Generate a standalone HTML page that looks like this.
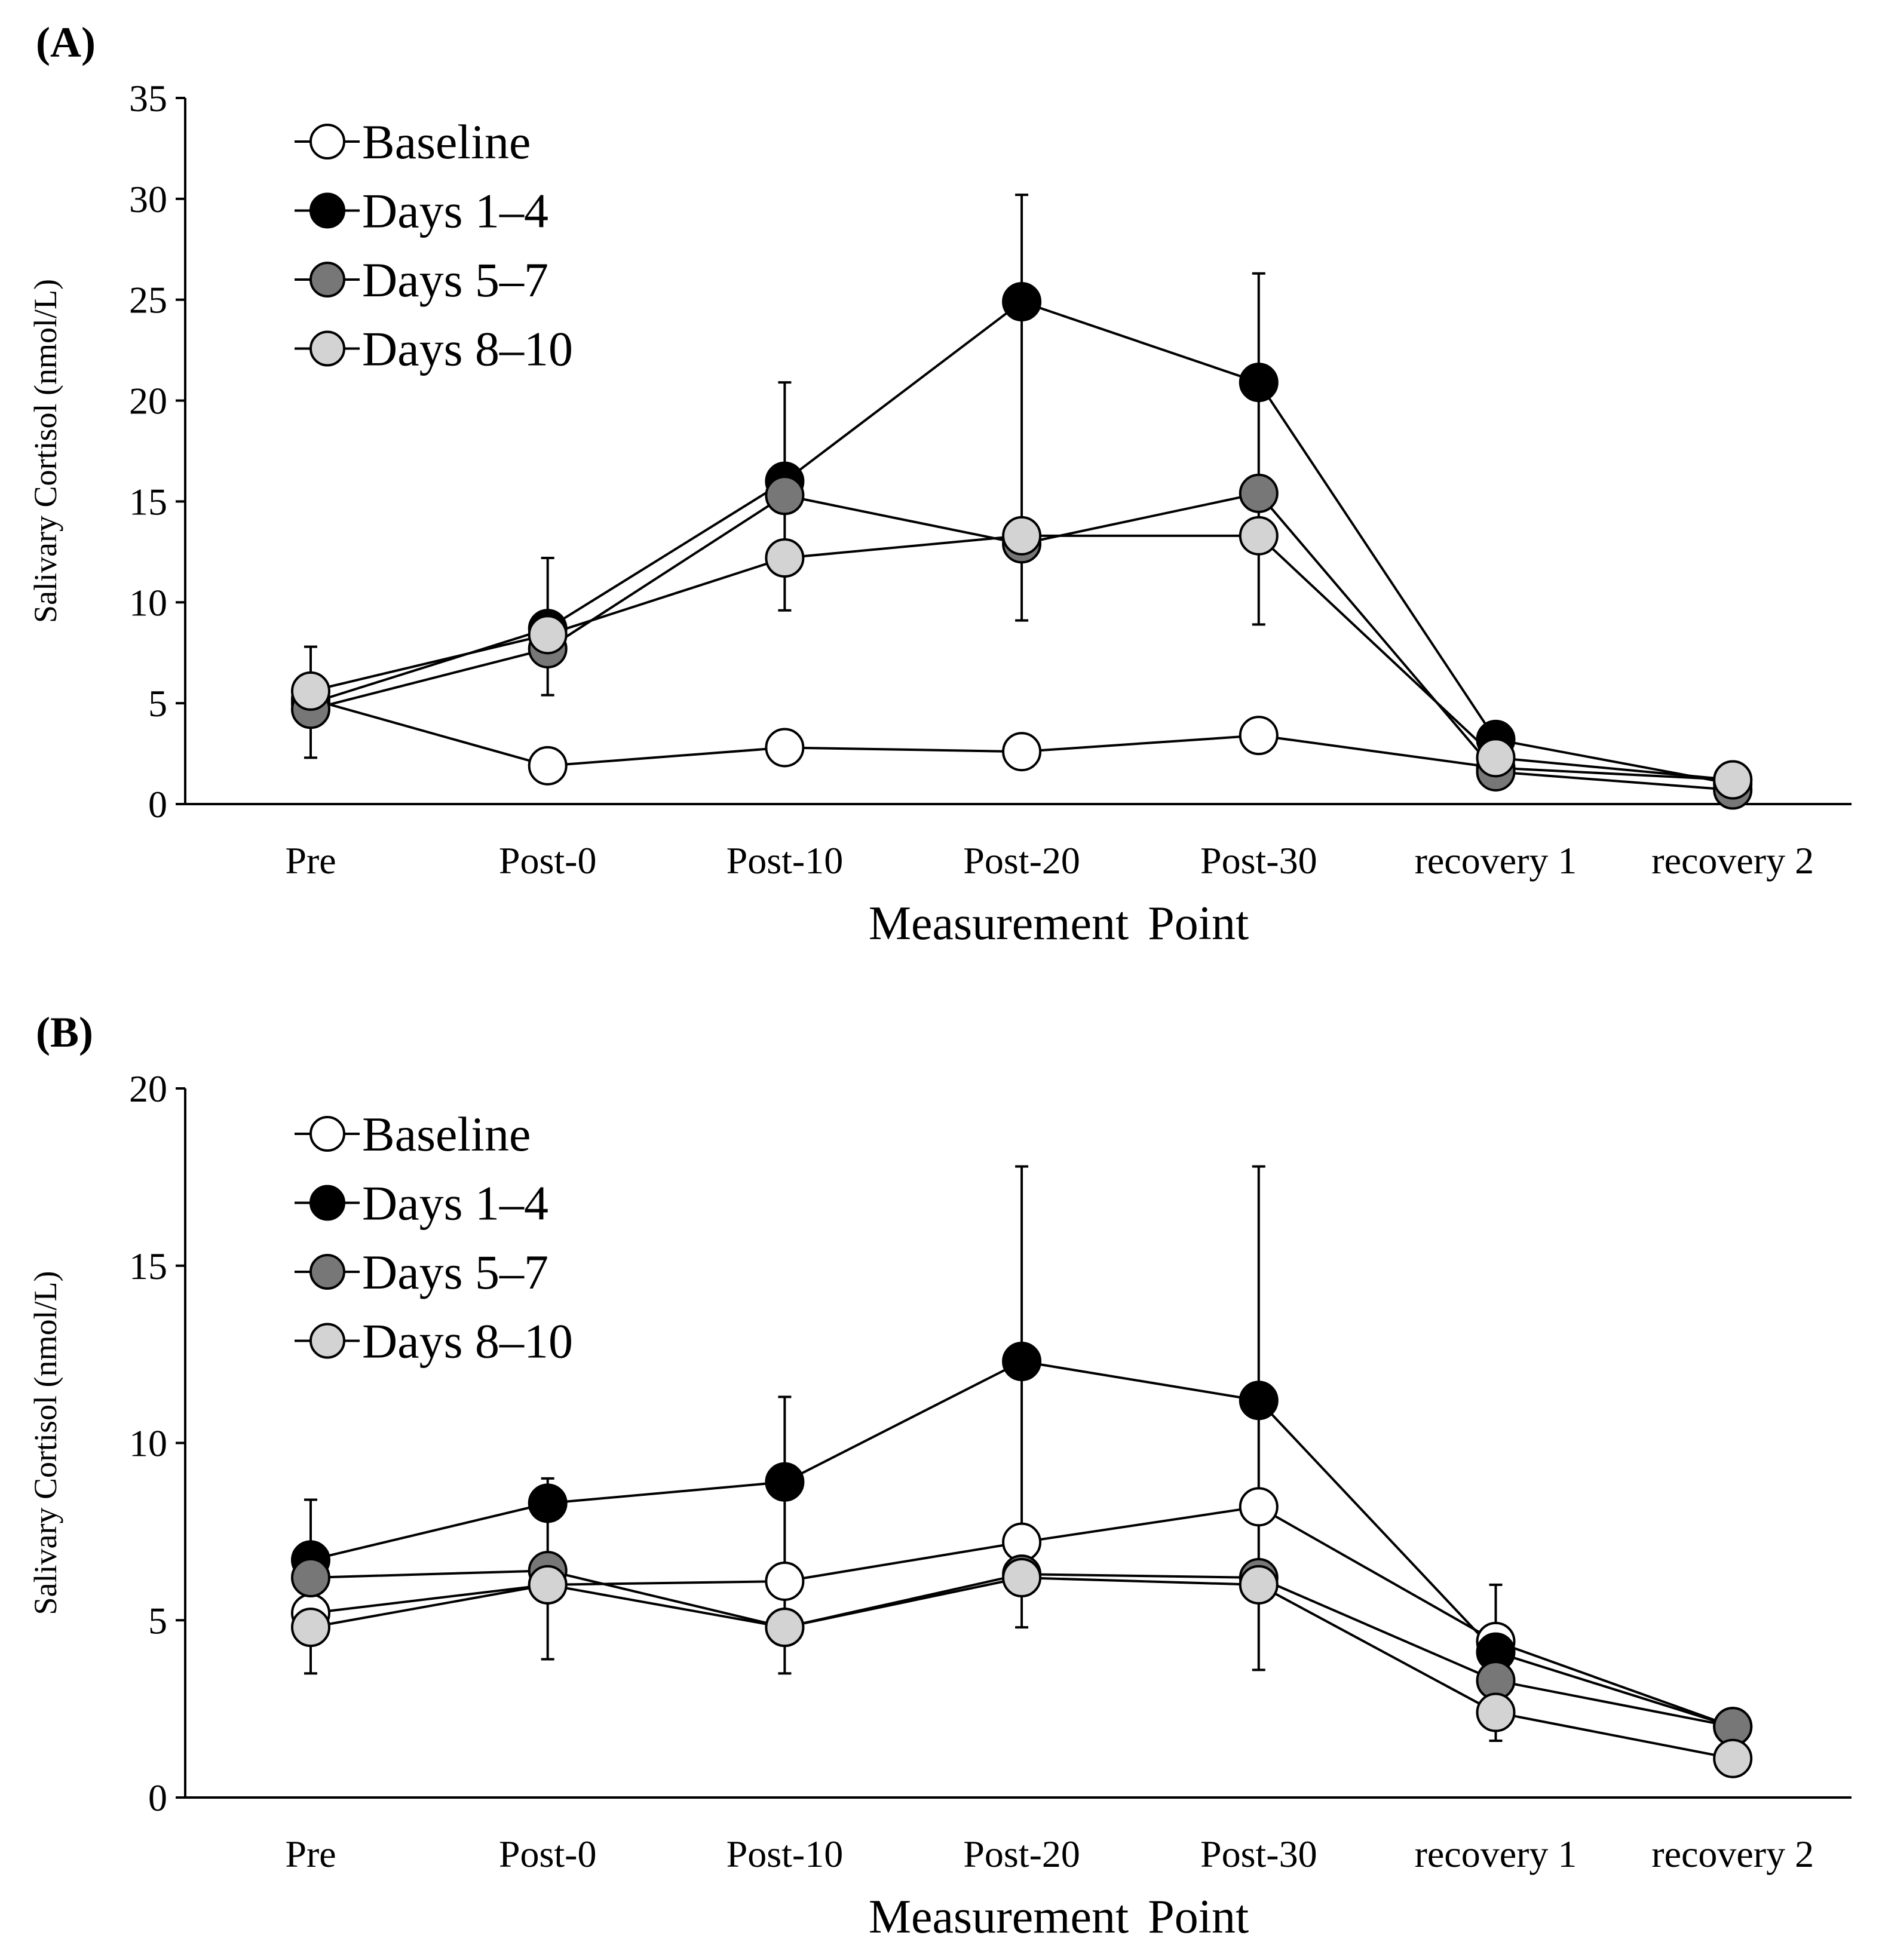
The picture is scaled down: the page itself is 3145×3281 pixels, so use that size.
<!DOCTYPE html>
<html><head><meta charset="utf-8"><style>
html,body{margin:0;padding:0;background:#fff}
svg{display:block;font-family:"Liberation Serif",serif}
</style></head><body>
<svg id="chart" width="3145" height="3281" viewBox="0 0 3145 3281"></svg>
<script>
const categories = ["Pre","Post-0","Post-10","Post-20","Post-30","recovery 1","recovery 2"];
const seriesNames = ["Baseline","Days 1\u20134","Days 5\u20137","Days 8\u201310"];
const seriesFills = ["#ffffff","#000000","#777777","#d3d3d3"];
const yTicksA = [0,5,10,15,20,25,30,35];
const yTicksB = [0,5,10,15,20];
const A_baseline = [5.2,1.9,2.8,2.6,3.4,1.8,1.2];
const A_days14 = [5.0,8.7,16.0,24.9,20.9,3.2,1.0];
const A_days57 = [4.7,7.7,15.3,12.9,15.4,1.6,0.7];
const A_days810 = [5.6,8.4,12.2,13.3,13.3,2.3,1.2];
const A_errHi = [7.8,12.2,20.9,30.2,26.3,4.0,2.0];
const A_errLo = [2.3,5.4,9.6,9.1,8.9,1.3,0.5];
const B_baseline = [5.2,6.0,6.1,7.2,8.2,4.4,2.0];
const B_days14 = [6.7,8.3,8.9,12.3,11.2,4.1,2.0];
const B_days57 = [6.2,6.4,4.8,6.3,6.2,3.3,2.0];
const B_days810 = [4.8,6.0,4.8,6.2,6.0,2.4,1.1];
const B_errHi = [8.4,9.0,11.3,17.8,17.8,6.0,2.2];
const B_errLo = [3.5,3.9,3.5,4.8,3.6,1.6,1.0];

const NS="http://www.w3.org/2000/svg";
const svg=document.getElementById('chart');
function mk(tag,attrs,parent){const e=document.createElementNS(NS,tag);for(const k in attrs)e.setAttribute(k,attrs[k]);(parent||svg).appendChild(e);return e;}

function panel(opt){
  const g=mk('g',{});
  
  
  const x0=310,x1=3099;
  const xs=i=>520+i*396.7;
  const ys=v=>opt.y0-(v/opt.ymax)*(opt.y0-opt.ytop);
  const lbl=mk('text',{x:60,y:opt.labelY,'font-size':72,'font-weight':'bold'},g);lbl.textContent=opt.label;
  
  
  const ax=mk('path',{d:`M${x0},${opt.ytop}V${opt.y0}H${x1}`,stroke:'#000','stroke-width':4,fill:'none'},g);
  
  
  opt.ticks.forEach(t=>{
    mk('line',{x1:x0-16,x2:x0,y1:ys(t),y2:ys(t),stroke:'#000','stroke-width':4},g);
    const tx=mk('text',{x:x0-30,y:ys(t)+22,'font-size':64,'text-anchor':'end'},g);tx.textContent=t;
    
    
  });
  categories.forEach((c,i)=>{
    const tx=mk('text',{x:xs(i),y:opt.y0+116,'font-size':64,'text-anchor':'middle'},g);tx.textContent=c;
    
    
  });
  const xt=mk('text',{x:1772,y:opt.y0+226,'font-size':80,'text-anchor':'middle','word-spacing':12},g);xt.textContent='Measurement Point';
  
  
  const yc=(opt.y0+opt.ytop)/2;
  const yt=mk('text',{x:0,y:0,'font-size':54,'text-anchor':'middle',transform:`translate(94,${yc}) rotate(-90)`},g);yt.textContent='Salivary Cortisol (nmol/L)';
  
  
  categories.forEach((c,i)=>{
    const x=xs(i),yh=ys(opt.hi[i]),yl=ys(opt.lo[i]);
    const eb=mk('path',{d:`M${x},${yh}V${yl}M${x-11},${yh}H${x+11}M${x-11},${yl}H${x+11}`,stroke:'#000','stroke-width':4,fill:'none'},g);
    
    
  });
  opt.series.forEach((s,k)=>{
    const ln=mk('polyline',{points:s.map((v,i)=>xs(i)+','+ys(v)).join(' '),stroke:'#000','stroke-width':4,fill:'none'},g);
    
    
  });
  opt.series.forEach((s,k)=>{
    s.forEach((v,i)=>{
      const c=mk('circle',{cx:xs(i),cy:ys(v),r:31,fill:seriesFills[k],stroke:'#000','stroke-width':4},g);
      
      
    });
  });
  seriesNames.forEach((n,k)=>{
    const y=opt.legY+k*115.5;
    const le=mk('g',{},g);
    
    
    mk('line',{x1:493,x2:602,y1:y,y2:y,stroke:'#000','stroke-width':4},le);
    mk('circle',{cx:548,cy:y,r:28,fill:seriesFills[k],stroke:'#000','stroke-width':4},le);
    const t=mk('text',{x:606,y:y+28,'font-size':82},le);t.textContent=n;
  });
}
panel({name:'panel-a',label:'(A)',labelY:95,ytop:164,y0:1346,ymax:35,ticks:yTicksA,
  series:[A_baseline,A_days14,A_days57,A_days810],hi:A_errHi,lo:A_errLo,legY:237});
panel({name:'panel-b',label:'(B)',labelY:1752,ytop:1822,y0:3009,ymax:20,ticks:yTicksB,
  series:[B_baseline,B_days14,B_days57,B_days810],hi:B_errHi,lo:B_errLo,legY:1898});
</script>
</body></html>
